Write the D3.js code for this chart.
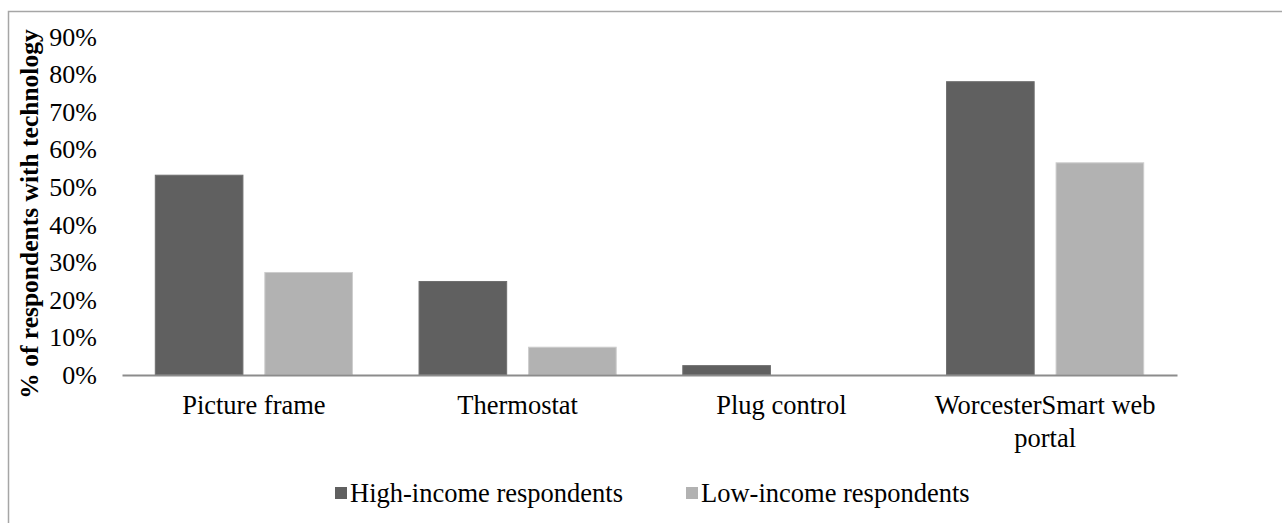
<!DOCTYPE html>
<meta charset="utf-8">
<style>
  body { margin: 0; background: #fff; }
  text { font-family: "Liberation Serif", "Times New Roman", serif; fill: #000; }
</style>
<script src="https://d3js.org/d3.v7.js"></script>
<div id="chart"></div>
<script>

// data
const categories = ["Picture frame", "Thermostat", "Plug control", "WorcesterSmart web portal"];
const seriesNames = ["High-income respondents", "Low-income respondents"];
const highIncome = [0.532, 0.249, 0.025, 0.781];
const lowIncome = [0.273, 0.074, 0, 0.565];
const yTicks = [0, 0.1, 0.2, 0.3, 0.4, 0.5, 0.6, 0.7, 0.8, 0.9];

const colors = ["#606060", "#b2b2b2"];

const W = 1282, H = 523;
const plot = {left: 122, right: 1177, top: 37, bottom: 375};

const rows = categories.map((c, i) => ({cat: c, values: [highIncome[i], lowIncome[i]]}));

const svg = d3.select("#chart").append("svg")
    .attr("width", W)
    .attr("height", H);

// outer chart border (runs off the right and bottom edges)
svg.append("rect")
    .attr("x", 8.5).attr("y", 11.5)
    .attr("width", W + 20).attr("height", H + 20)
    .attr("fill", "none")
    .attr("stroke", "#a6a6a6")
    .attr("stroke-width", 1.5);

const x0 = d3.scaleBand()
    .domain(categories)
    .range([plot.left, plot.right])
    .padding(0);

const x1 = d3.scaleBand()
    .domain(seriesNames)
    .range([0, x0.bandwidth()])
    .paddingInner(0.2)
    .paddingOuter(0.304);

const y = d3.scaleLinear()
    .domain([0, 0.9])
    .range([plot.bottom, plot.top]);

// y tick labels
const yAxis = svg.append("g")
    .attr("transform", `translate(${plot.left},0)`)
    .call(d3.axisLeft(y).tickValues(yTicks).tickFormat(d3.format(".0%")).tickSize(0).tickPadding(25));
yAxis.select(".domain").remove();
yAxis.selectAll("text")
    .style("font-family", "'Liberation Serif', serif")
    .style("font-size", "26px")
    .attr("fill", "#000");

// bars
svg.append("g")
  .selectAll("g")
  .data(rows)
  .join("g")
    .attr("transform", d => `translate(${x0(d.cat)},0)`)
  .selectAll("rect")
  .data(d => d.values.map((v, i) => ({key: seriesNames[i], value: v, i: i})))
  .join("rect")
    .attr("x", d => x1(d.key))
    .attr("y", d => y(d.value))
    .attr("width", x1.bandwidth())
    .attr("height", d => y(0) - y(d.value))
    .attr("fill", d => colors[d.i])
    .attr("stroke", d => d.value > 0 ? d3.color(colors[d.i]).brighter(0.4) : "none")
    .attr("stroke-width", 1);

// x axis line + labels
const xAxis = svg.append("g")
    .attr("transform", `translate(0,${plot.bottom})`)
    .call(d3.axisBottom(x0).tickSize(0).tickPadding(20));
xAxis.select(".domain")
    .attr("stroke", "#8c8c8c")
    .attr("stroke-width", 2);
xAxis.selectAll("text")
    .style("font-family", "'Liberation Serif', serif")
    .style("font-size", "26.5px")
    .attr("fill", "#000")
    .call(wrap, x0.bandwidth() - 20);

function wrap(texts, width) {
  texts.each(function() {
    const text = d3.select(this);
    const words = text.text().split(/\s+/);
    const yv = text.attr("y");
    text.text(null);
    let line = [];
    let tspan = text.append("tspan").attr("x", 0).attr("y", yv).attr("dy", "0.71em");
    let lineNo = 0;
    words.forEach(w => {
      line.push(w);
      tspan.text(line.join(" "));
      if (tspan.node().getComputedTextLength() > width && line.length > 1) {
        line.pop();
        tspan.text(line.join(" "));
        line = [w];
        lineNo++;
        tspan = text.append("tspan").attr("x", 0).attr("y", yv)
            .attr("dy", (0.71 + lineNo * 1.25) + "em").text(w);
      }
    });
  });
}

// y axis title
svg.append("text")
    .attr("transform", `translate(38,214) rotate(-90)`)
    .attr("text-anchor", "middle")
    .style("font-size", "25.5px")
    .style("font-weight", "bold")
    .text("% of respondents with technology");

// legend
const legendX = [335, 686];
const legend = svg.append("g")
  .selectAll("g")
  .data(seriesNames)
  .join("g")
    .attr("transform", (d, i) => `translate(${legendX[i]},487)`);
legend.append("rect")
    .attr("width", 12).attr("height", 12)
    .attr("fill", (d, i) => colors[i]);
legend.append("text")
    .attr("x", 15)
    .attr("y", 6)
    .attr("dy", "0.35em")
    .style("font-size", "26.5px")
    .text(d => d);

</script>
